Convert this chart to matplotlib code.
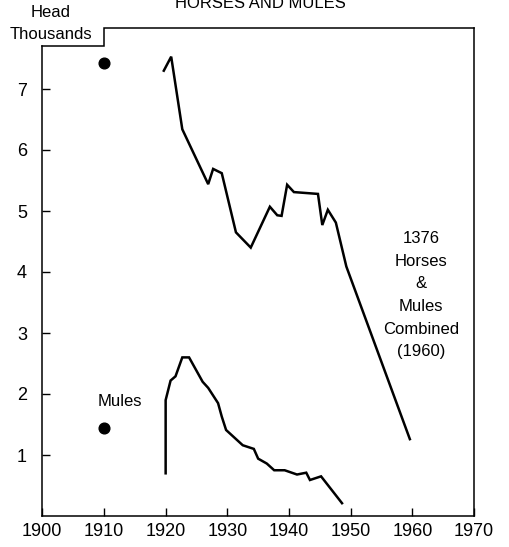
import matplotlib
matplotlib.use("Agg")
import matplotlib.pyplot as plt
from matplotlib import font_manager

# ---- data (thousand head) ----
horse_years = [1919.7, 1920.9, 1922.7, 1926.9, 1927.7, 1929.1, 1931.4, 1933.8,
               1936.9, 1938.1, 1938.8, 1939.7, 1940.8, 1944.7, 1945.4, 1946.3,
               1947.6, 1949.3, 1959.6]
horse_head = [7.30, 7.53, 6.34, 5.44, 5.69, 5.62, 4.65, 4.40,
              5.07, 4.93, 4.92, 5.43, 5.31, 5.28, 4.77, 5.02,
              4.81, 4.09, 1.26]

mule_years = [1920.0, 1920.0, 1920.8, 1921.6, 1922.7, 1923.8, 1926.0, 1926.9,
              1928.5, 1929.1, 1929.8, 1932.5, 1934.3, 1935.0, 1936.4, 1937.6,
              1939.3, 1941.3, 1942.8, 1943.4, 1945.2, 1948.6]
mule_head = [0.70, 1.90, 2.22, 2.29, 2.60, 2.60, 2.20, 2.10,
             1.85, 1.63, 1.41, 1.16, 1.10, 0.94, 0.86, 0.75,
             0.75, 0.68, 0.71, 0.59, 0.65, 0.21]

dot_year = 1910
dot_horses = 7.42
dot_mules = 1.44

x_ticks = list(range(1900, 1971, 10))
y_ticks = [1, 2, 3, 4, 5, 6, 7]
note_lines = ["1376", "Horses", "&", "Mules", "Combined", "(1960)"]

installed = {f.name for f in font_manager.fontManager.ttflist}
text_font = ["Liberation Sans", "DejaVu Sans"]
tick_font = ["Liberation Sans Narrow"] if "Liberation Sans Narrow" in installed else ["Liberation Sans"]
tick_size = 15 if "Liberation Sans Narrow" in installed else 13

plt.rcParams.update({
    "font.family": text_font,
    "axes.linewidth": 1.1,
    "savefig.facecolor": "white",
})

fig = plt.figure(figsize=(5.09, 5.47), dpi=100)
ax = fig.add_axes([42.3 / 509, 31 / 547, (474 - 42.3) / 509, (516 - 28) / 547])

ax.plot(horse_years, horse_head, color="black", linewidth=1.8, solid_joinstyle="miter")
ax.plot(mule_years, mule_head, color="black", linewidth=1.8, solid_joinstyle="miter")
ax.plot([dot_year, dot_year], [dot_horses, dot_mules], linestyle="none",
        marker="o", markersize=7.7, color="black")

ax.set_xlim(1900, 1970)
ax.set_ylim(0, 8)
ax.set_xticks(x_ticks)
ax.set_yticks(y_ticks)
ax.tick_params(direction="in", length=5.5, width=1.0, color="black")
ax.tick_params(axis="x", pad=5)
ax.tick_params(axis="y", pad=11)
for lab in ax.get_xticklabels() + ax.get_yticklabels():
    lab.set_family(tick_font)
    lab.set_fontsize(tick_size)

# stepped top frame: lower under the "Head Thousands" label
notch = 7.71
ax.spines["top"].set_visible(False)
ax.spines["left"].set_bounds(0, notch)
ax.plot([1900, 1910, 1910, 1970], [notch, notch, 8, 8], color="black",
        linewidth=1.1, clip_on=False, solid_joinstyle="miter")

fig.text(260 / 509, 1 - 8 / 547, "HORSES AND MULES", ha="center", va="baseline",
         fontsize=12)
fig.text(51 / 509, 1 - 16.7 / 547, "Head", ha="center", va="baseline", fontsize=12)
fig.text(51 / 509, 1 - 39 / 547, "Thousands", ha="center", va="baseline", fontsize=12)

ax.text(1912.5, 1.81, "Mules", ha="center", va="baseline", fontsize=12)

for i, line in enumerate(note_lines):
    ax.text(1961.4, 4.47 - 0.37 * i, line, ha="center", va="baseline", fontsize=12)

fig.savefig("out.png", dpi=100)
